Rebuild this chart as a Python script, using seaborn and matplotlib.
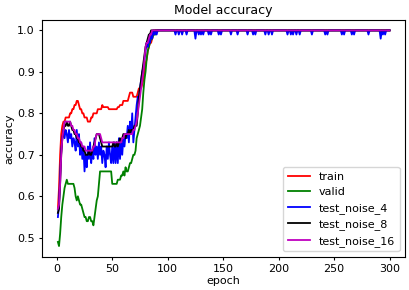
import pandas as pd
import seaborn as sns
import matplotlib.pyplot as plt

N_EPOCHS = 300

# epochs 1..n; after that every curve sits at 1.0
train = [0.57, 0.62, 0.70, 0.75, 0.77, 0.78, 0.78, 0.79, 0.79, 0.79,
         0.79, 0.80, 0.80, 0.81, 0.81, 0.82, 0.82, 0.83, 0.83, 0.82,
         0.81, 0.81, 0.80, 0.80, 0.79, 0.79, 0.79, 0.78, 0.78, 0.78,
         0.79, 0.79, 0.80, 0.80, 0.80, 0.80, 0.81, 0.81, 0.81, 0.81,
         0.82, 0.815, 0.815, 0.815, 0.815, 0.815, 0.81, 0.81, 0.81, 0.81,
         0.81, 0.81, 0.81, 0.81, 0.815, 0.815, 0.82, 0.82, 0.82, 0.83,
         0.83, 0.83, 0.83, 0.83, 0.84, 0.85, 0.85, 0.85, 0.84, 0.84,
         0.84, 0.84, 0.85, 0.86, 0.86, 0.86, 0.87, 0.88, 0.90, 0.92,
         0.93, 0.95, 0.96, 0.97, 0.97, 0.98, 0.99]
valid = [0.49, 0.48, 0.51, 0.55, 0.58, 0.60, 0.62, 0.63, 0.64, 0.63,
         0.63, 0.63, 0.63, 0.63, 0.63, 0.62, 0.60, 0.59, 0.60, 0.59,
         0.58, 0.58, 0.57, 0.56, 0.55, 0.55, 0.54, 0.54, 0.55, 0.55,
         0.54, 0.54, 0.53, 0.55, 0.57, 0.59, 0.60, 0.63, 0.66, 0.66,
         0.66, 0.66, 0.66, 0.66, 0.66, 0.66, 0.66, 0.66, 0.66, 0.63,
         0.63, 0.63, 0.63, 0.63, 0.64, 0.64, 0.64, 0.65, 0.65, 0.66,
         0.65, 0.67, 0.66, 0.66, 0.67, 0.68, 0.68, 0.69, 0.70, 0.70,
         0.71, 0.74, 0.75, 0.76, 0.77, 0.79, 0.81, 0.85, 0.88, 0.90,
         0.93, 0.95, 0.96, 0.97, 0.98, 0.98, 0.99, 0.99, 0.99]
noise_4 = [0.55, 0.58, 0.65, 0.71, 0.74, 0.76, 0.74, 0.76, 0.75, 0.73,
           0.76, 0.74, 0.75, 0.72, 0.74, 0.73, 0.71, 0.76, 0.72, 0.75,
           0.70, 0.73, 0.69, 0.72, 0.66, 0.70, 0.67, 0.72, 0.69, 0.73,
           0.68, 0.71, 0.69, 0.74, 0.70, 0.72, 0.69, 0.73, 0.70, 0.72,
           0.68, 0.71, 0.70, 0.67, 0.72, 0.69, 0.73, 0.70, 0.68, 0.72,
           0.68, 0.73, 0.68, 0.73, 0.68, 0.74, 0.69, 0.73, 0.70, 0.74,
           0.72, 0.75, 0.74, 0.77, 0.73, 0.78, 0.75, 0.80, 0.73, 0.76,
           0.79, 0.82, 0.84, 0.83, 0.86, 0.88, 0.90, 0.91, 0.93, 0.95,
           0.97, 0.96, 0.98, 0.97, 0.99, 0.98, 1.0, 0.99, 1.0, 0.99]
noise_8 = [0.56, 0.57, 0.63, 0.70, 0.74, 0.76, 0.77, 0.77, 0.78, 0.77,
           0.77, 0.78, 0.77, 0.76, 0.76, 0.75, 0.75, 0.74, 0.74, 0.73,
           0.73, 0.72, 0.72, 0.71, 0.71, 0.70, 0.70, 0.70, 0.71, 0.70,
           0.70, 0.71, 0.72, 0.73, 0.74, 0.75, 0.75, 0.75, 0.74, 0.73,
           0.72, 0.72, 0.72, 0.72, 0.72, 0.72, 0.72, 0.72, 0.72, 0.72,
           0.73, 0.72, 0.72, 0.73, 0.72, 0.73, 0.74, 0.73, 0.74, 0.75,
           0.75, 0.74, 0.75, 0.75, 0.76, 0.75, 0.76, 0.76, 0.76, 0.77,
           0.77, 0.77, 0.80, 0.84, 0.86, 0.88, 0.90, 0.92, 0.94, 0.96,
           0.97, 0.98, 0.99, 0.99]
noise_16 = [0.57, 0.58, 0.63, 0.70, 0.74, 0.76, 0.78, 0.78, 0.78, 0.78,
            0.78, 0.78, 0.77, 0.77, 0.76, 0.76, 0.75, 0.75, 0.74, 0.74,
            0.73, 0.73, 0.72, 0.72, 0.72, 0.71, 0.71, 0.71, 0.71, 0.71,
            0.71, 0.71, 0.72, 0.72, 0.74, 0.75, 0.75, 0.75, 0.75, 0.74,
            0.73, 0.73, 0.73, 0.73, 0.73, 0.73, 0.73, 0.73, 0.73, 0.73,
            0.73, 0.73, 0.73, 0.73, 0.73, 0.73, 0.73, 0.73, 0.74, 0.74,
            0.75, 0.75, 0.75, 0.75, 0.75, 0.75, 0.75, 0.75, 0.76, 0.76,
            0.77, 0.78, 0.80, 0.82, 0.84, 0.86, 0.88, 0.90, 0.93, 0.96,
            0.97, 0.97, 0.98, 0.99, 0.99]

# small dips of test_noise_4 once it reaches 1.0
noise_4_dips = {107: 0.99, 110: 0.99, 113: 0.99, 117: 0.99, 125: 0.98,
                128: 0.99, 130: 0.99, 132: 0.99, 137: 0.99, 139: 0.99,
                146: 0.99, 148: 0.99, 157: 0.99, 163: 0.99, 172: 0.99,
                177: 0.99, 179: 0.99, 188: 0.99, 191: 0.99, 194: 0.99,
                208: 0.99, 211: 0.99, 213: 0.99, 216: 0.99, 219: 0.99,
                230: 0.99, 242: 0.99, 244: 0.99, 257: 0.99, 259: 0.99,
                266: 0.99, 268: 0.99, 281: 0.99, 292: 0.98, 294: 0.99,
                296: 0.99}

series = {"train": train, "valid": valid, "test_noise_4": noise_4,
          "test_noise_8": noise_8, "test_noise_16": noise_16}
colors = {"train": "red", "valid": "green", "test_noise_4": "blue",
          "test_noise_8": "black", "test_noise_16": "m"}

epochs = list(range(1, N_EPOCHS + 1))
for name, vals in series.items():
    vals += [1.0] * (N_EPOCHS - len(vals))
for ep, v in noise_4_dips.items():
    noise_4[ep - 1] = v

df = pd.DataFrame({"epoch": epochs, **series})

plt.rcParams["font.size"] = 8
plt.rcParams["xtick.major.size"] = 2.5
plt.rcParams["ytick.major.size"] = 2.5
plt.rcParams["xtick.major.pad"] = 2.5
plt.rcParams["ytick.major.pad"] = 2.5
fig = plt.figure(figsize=(4.1, 2.9), dpi=100)
ax = fig.add_axes([0.102, 0.115, 0.886, 0.816])
for name in series:
    sns.lineplot(data=df, x="epoch", y=name, color=colors[name],
                 label=name, linewidth=1.3, ax=ax)

ax.set_title("Model accuracy", fontsize=9, pad=4)
ax.set_xlabel("epoch", labelpad=1.5)
ax.set_ylabel("accuracy", labelpad=2)
ax.set_xlim(-13.5, 314)
ax.set_ylim(0.4545, 1.025)
ax.legend(loc="lower right", fontsize=8)
fig.savefig("out.png", dpi=100)
